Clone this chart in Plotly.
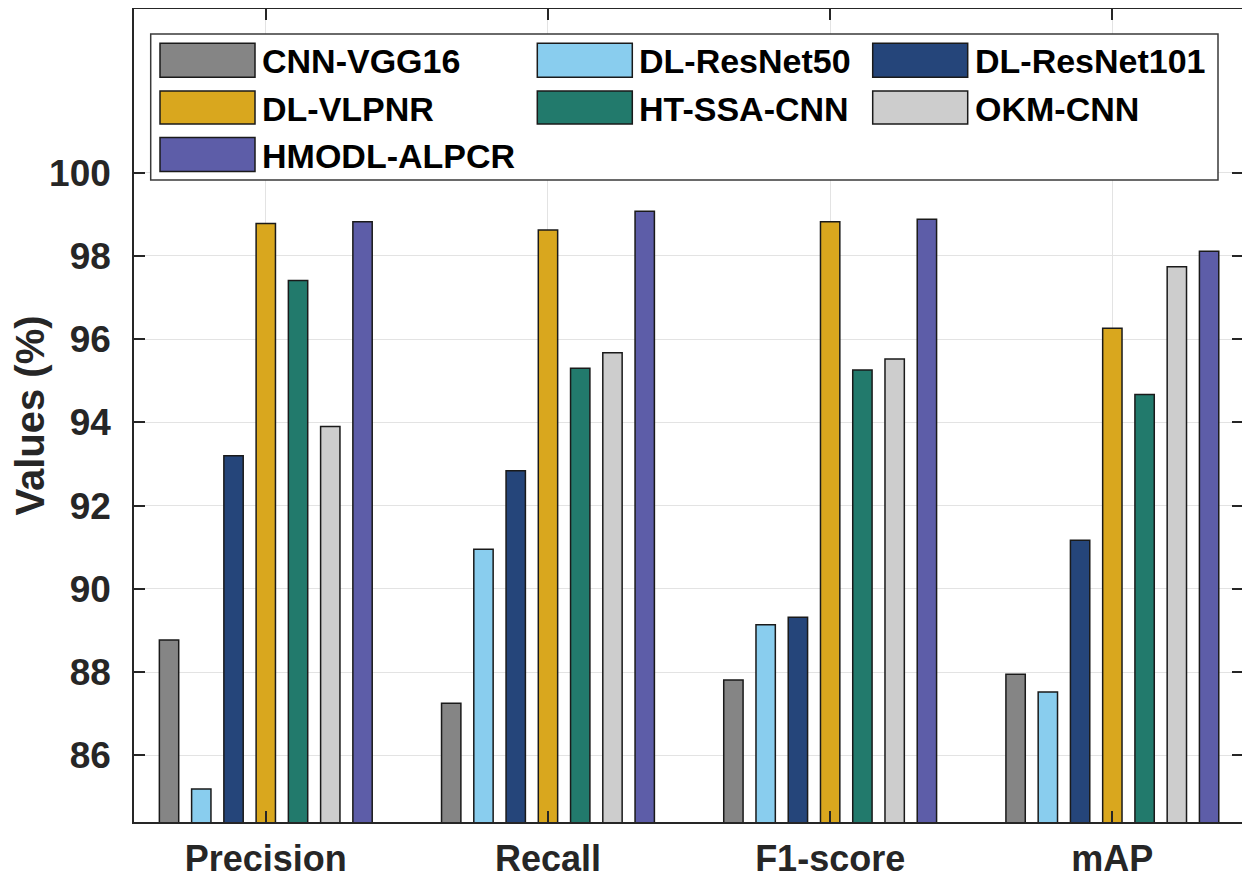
import plotly.graph_objects as go

categories = ["Precision", "Recall", "F1-score", "mAP"]
series_names = ["CNN-VGG16", "DL-ResNet50", "DL-ResNet101", "DL-VLPNR",
                "HT-SSA-CNN", "OKM-CNN", "HMODL-ALPCR"]
cnn_vgg16 = [88.77, 87.25, 87.81, 87.95]
dl_resnet50 = [85.19, 90.95, 89.14, 87.52]
dl_resnet101 = [93.20, 92.84, 89.32, 91.17]
dl_vlpnr = [98.78, 98.62, 98.82, 96.26]
ht_ssa_cnn = [97.41, 95.30, 95.26, 94.67]
okm_cnn = [93.90, 95.67, 95.52, 97.74]
hmodl_alpcr = [98.82, 99.07, 98.88, 98.11]
series_values = [cnn_vgg16, dl_resnet50, dl_resnet101, dl_vlpnr,
                 ht_ssa_cnn, okm_cnn, hmodl_alpcr]
colors = ["#858585", "#89CDEE", "#25457A", "#D9A71E",
          "#227A6C", "#CDCDCD", "#5D5DA8"]
ytick_vals = [86, 88, 90, 92, 94, 96, 98, 100]

# page has an 8px body margin; figure sized to fit the 1250x883 window
OFF = 8
W, H = 1250 - OFF, 883 - OFF
# target plot-area edges in window pixels
L, R, T, B = 134, 1243, 9, 822
FONT = "Liberation Sans, Arial, sans-serif"
AX = "#262626"

fig = go.Figure()
for name, vals, col in zip(series_names, series_values, colors):
    fig.add_trace(go.Bar(
        x=categories, y=vals, name=name,
        marker=dict(color=col, line=dict(color="#1a1a1a", width=1.5)),
        showlegend=False,
    ))

def px(xp):
    return (xp - L) / (R - L)

def py(yp):
    return (B - yp) / (B - T)

shapes = []
annotations = []
# legend box
shapes.append(dict(type="rect", xref="paper", yref="paper",
                   x0=px(150.7), x1=px(1218), y0=py(180), y1=py(34),
                   fillcolor="white", line=dict(color="#3a3a3a", width=1.5),
                   layer="above"))
col_x = [160, 537.3, 872.7]
row_y = [(43.3, 77.3), (91, 124), (137.5, 171.5)]
sw_w = 95
order = [(0, 0), (0, 1), (0, 2), (1, 0), (1, 1), (1, 2), (2, 0)]
for (r, c), name, col in zip(order, series_names, colors):
    y0, y1 = row_y[r]
    shapes.append(dict(type="rect", xref="paper", yref="paper",
                       x0=px(col_x[c]), x1=px(col_x[c] + sw_w),
                       y0=py(y1), y1=py(y0),
                       fillcolor=col, line=dict(color="#1a1a1a", width=1.5),
                       layer="above"))
    annotations.append(dict(xref="paper", yref="paper",
                            x=px(col_x[c] + sw_w + 5), y=py((y0 + y1) / 2 + 1),
                            xanchor="left", yanchor="middle", showarrow=False,
                            text=name,
                            font=dict(family=FONT, size=34, color="black",
                                      weight="bold")))

fig.update_layout(
    width=W, height=H,
    margin=dict(l=L - OFF, r=W - (R - OFF), t=T - OFF, b=H - (B - OFF)),
    paper_bgcolor="white", plot_bgcolor="white",
    barmode="group", bargap=0.2, bargroupgap=0.4,
    shapes=shapes, annotations=annotations,
    font=dict(family=FONT, color=AX),
)
fig.update_xaxes(
    type="category", range=[-0.467, 3.463], automargin=False,
    showgrid=True, gridcolor="#e3e3e3", gridwidth=1.2,
    showline=True, linecolor=AX, linewidth=1.5, mirror="ticks",
    ticks="inside", ticklen=11, tickcolor=AX, tickwidth=1.5,
    tickfont=dict(family=FONT, size=36, color=AX, weight="bold"),
    ticklabelstandoff=4,
)
fig.update_yaxes(
    range=[84.4, 103.93], tickvals=ytick_vals, automargin=False,
    showgrid=True, gridcolor="#e3e3e3", gridwidth=1.2,
    showline=True, linecolor=AX, linewidth=1.5, mirror="ticks",
    ticks="inside", ticklen=11, tickcolor=AX, tickwidth=1.5,
    tickfont=dict(family=FONT, size=37, color=AX, weight="bold"),
    ticklabelstandoff=14,
    zeroline=False,
    title=dict(text="Values (%)", standoff=12,
               font=dict(family=FONT, size=40, color=AX, weight="bold")),
)

fig.write_html("out.html")
